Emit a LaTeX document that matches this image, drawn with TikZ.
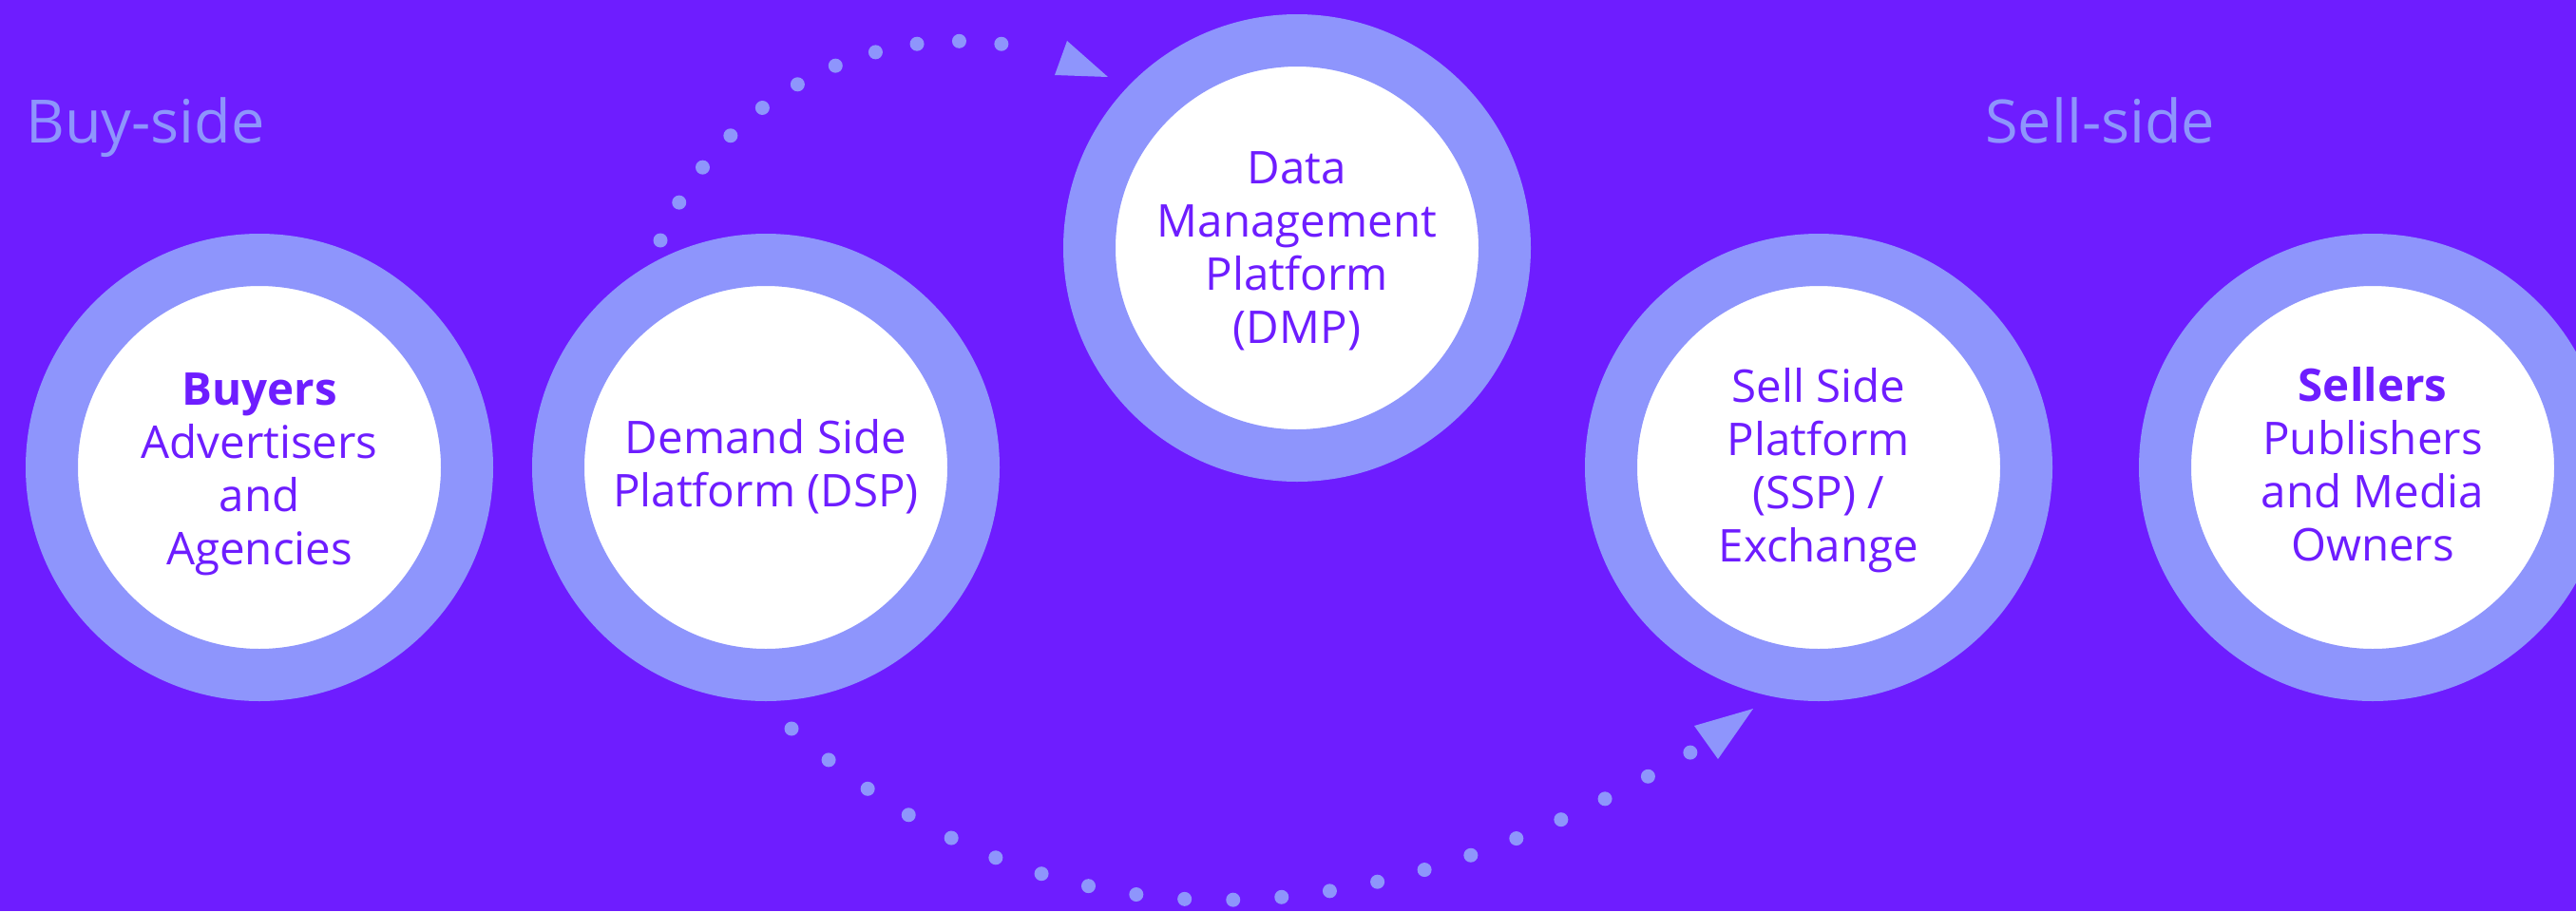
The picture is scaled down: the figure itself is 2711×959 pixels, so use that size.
\documentclass[tikz,border=0pt]{standalone}
\usepackage{fontspec}
\setmainfont{Open Sans}
\definecolor{bg}{HTML}{6E1DFF}
\definecolor{ring}{HTML}{8E95FC}
\definecolor{ink}{HTML}{6E1DFF}
\newcommand\firststrut{\rule{0pt}{40pt}}
\tikzset{
  disc/.style={circle, fill=white, draw=ring, line width=55pt, minimum size=437pt, inner sep=0pt},
  circtext/.style={anchor=north, align=center, inner sep=0pt, text=ink, font=\fontsize{47.5}{56}\selectfont},
  sidelbl/.style={anchor=base west, inner sep=0pt, text=ring, font=\fontsize{63}{70}\selectfont},
  dotline/.style={draw=ring, line width=15pt, line cap=round, dash pattern=on 0pt off #1},
  tiphead/.style={fill=ring}
}
\begin{document}
\begin{tikzpicture}[x=1pt,y=1pt]
\fill[bg] (0,0) rectangle (2711,-959);
\useasboundingbox (0,0) rectangle (2711,-959);
\clip (0,0) rectangle (2711,-959);

% circles
\node[disc] (buyers)  at (273,-492)  {};
\node[disc] (dsp)     at (806,-492)  {};
\node[disc] (dmp)     at (1365,-261) {};
\node[disc] (ssp)     at (1914,-492) {};
\node[disc] (sellers) at (2497,-492) {};

% texts
\node[circtext] (buyers-t)  at (273,-386)  {\firststrut\textbf{Buyers}\\Advertisers\\and\\Agencies};
\node[circtext] (dsp-t)     at (806,-437)  {\firststrut Demand Side\\Platform (DSP)};
\node[circtext] (dmp-t)     at (1365,-153) {\firststrut Data\\Management\\Platform\\(DMP)};
\node[circtext] (ssp-t)     at (1914,-383) {\firststrut Sell Side\\Platform\\(SSP) /\\Exchange};
\node[circtext] (sellers-t) at (2497,-382) {\firststrut\textbf{Sellers}\\Publishers\\and Media\\Owners};

\node[sidelbl] (buyside)  at (27,-150)   {Buy-side};
\node[sidelbl] (sellside) at (2089,-150) {Sell-side};

% dotted connector DSP -> DMP
\coordinate (ta) at (695,-253);
\coordinate (tb1) at (1123,-43);
\coordinate (tb2) at (1110,-79);
\coordinate (tbtip) at (1166,-81);
\draw[dotline=44.52pt] (ta) arc[start angle=157.4, end angle=75, radius=340.5];
\fill[tiphead] (tb1) -- (tb2) -- (tbtip) -- cycle;

% dotted connector DSP -> SSP
\coordinate (ba) at (833,-767);
\coordinate (bb) at (1779,-792);
\coordinate (bh1) at (1783,-764);
\coordinate (bh2) at (1808,-799);
\coordinate (bhtip) at (1845,-746);
\draw[dotline=51.1pt] (ba) .. controls (1128,-1031) and (1468,-975) .. (bb);
\fill[tiphead] (bh1) -- (bh2) -- (bhtip) -- cycle;
\end{tikzpicture}
\end{document}
